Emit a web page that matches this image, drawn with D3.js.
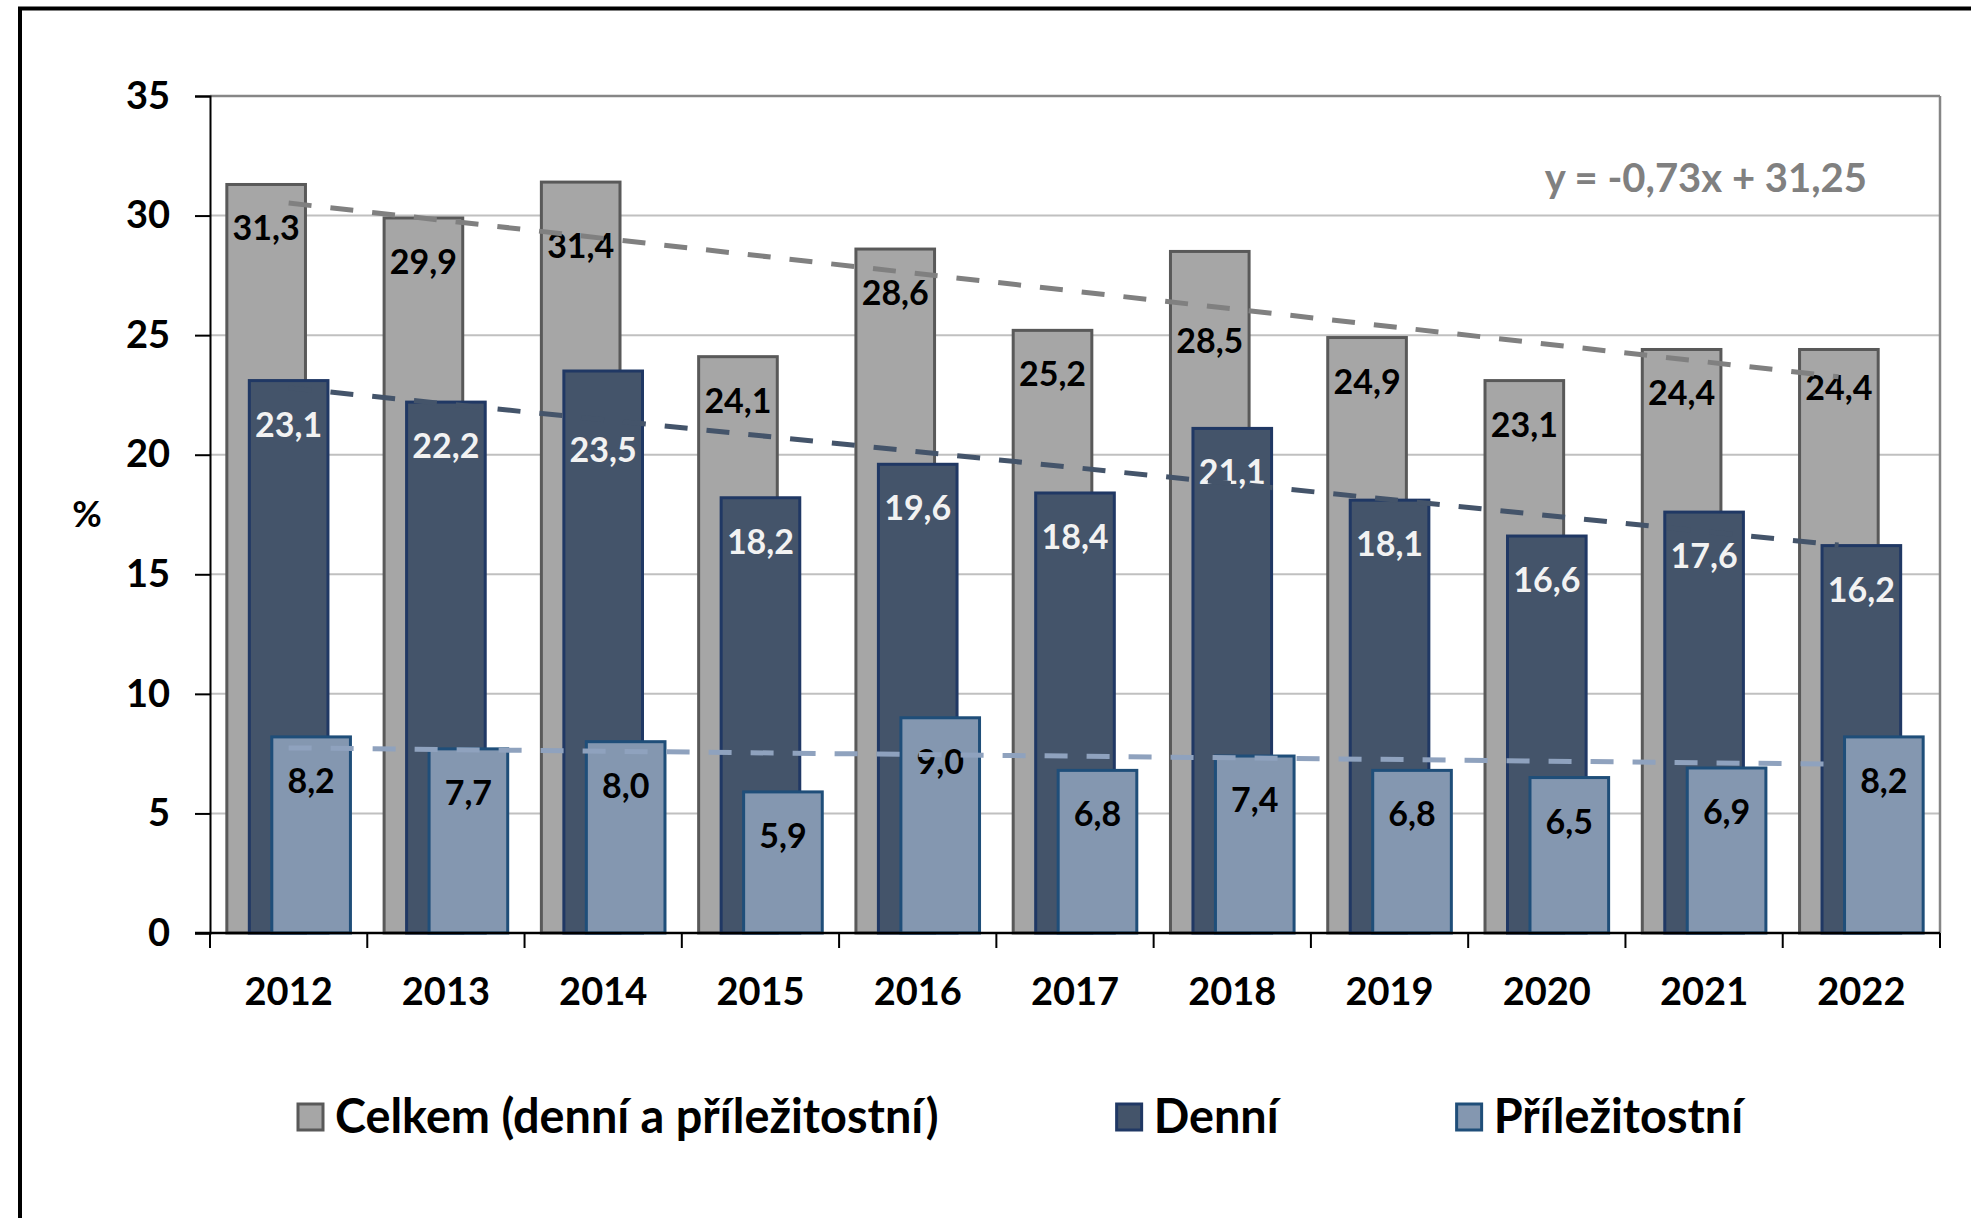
<!DOCTYPE html>
<html><head><meta charset="utf-8">
<script src="https://cdn.jsdelivr.net/npm/d3@7"></script>
<style>body{margin:0;background:#fff}svg{display:block}text{font-family:Lato,"Open Sans",sans-serif}</style>
</head><body><svg id="c" width="1971" height="1218"></svg>
<script>
const years = ["2012","2013","2014","2015","2016","2017","2018","2019","2020","2021","2022"];
const celkem = [31.3,29.9,31.4,24.1,28.6,25.2,28.5,24.9,23.1,24.4,24.4];
const denni  = [23.1,22.2,23.5,18.2,19.6,18.4,21.1,18.1,16.6,17.6,16.2];
const prilez = [8.2,7.7,8.0,5.9,9.0,6.8,7.4,6.8,6.5,6.9,8.2];
const yTicks = [0,5,10,15,20,25,30,35];
const seriesNames = ["Celkem (denní a příležitostní)","Denní","Příležitostní"];
const yAxisTitle = "%";
const equationLabel = "y = -0,73x + 31,25";

// manual label nudges (px), as moved in the original chart
const labelNudge = {"0|2014": 20, "0|2018": 46, "0|2022": -5, "1|2014": 35};

const series = [
  {name: seriesNames[0], values: celkem, fill: "#A6A6A6", stroke: "#595959", label: "#000", trend: "#808080", off: -0.143},
  {name: seriesNames[1], values: denni,  fill: "#44546A", stroke: "#203864", label: "#F2F2F2", trend: "#44546A", off: 0},
  {name: seriesNames[2], values: prilez, fill: "#8497B0", stroke: "#1F4E79", label: "#000", trend: "#8FA2BE", off: 0.143}
];

const svg = d3.select("#c");
const W = 1971, H = 1218;
svg.append("rect").attr("width", W).attr("height", H).attr("fill", "#fff");
svg.append("rect").attr("x", 20).attr("y", 8.5).attr("width", 1990).attr("height", 1250)
  .attr("fill", "none").attr("stroke", "#000").attr("stroke-width", 4);

const m = {left: 210, right: 1940, top: 96, bottom: 933};
const x = d3.scaleBand().domain(years).range([m.left, m.right]).padding(0);
const y = d3.scaleLinear().domain([0, 35]).range([m.bottom, m.top]);
const bw = x.bandwidth();
const barW = bw * 0.5;

// gridlines
svg.append("g").selectAll("line").data(yTicks.filter(t => t > 0)).join("line")
  .attr("x1", m.left).attr("x2", m.right)
  .attr("y1", d => y(d)).attr("y2", d => y(d))
  .attr("stroke", d => d === 35 ? "#868686" : "#C0C0C0")
  .attr("stroke-width", d => d === 35 ? 2.5 : 2);
svg.append("line").attr("x1", m.right).attr("x2", m.right).attr("y1", m.top).attr("y2", m.bottom)
  .attr("stroke", "#868686").attr("stroke-width", 2.5);

// bars
series.forEach(s => {
  svg.append("g").selectAll("rect").data(s.values).join("rect")
    .attr("x", (d, i) => x(years[i]) + bw / 2 + s.off * bw - barW / 2)
    .attr("y", d => y(d))
    .attr("width", barW)
    .attr("height", d => y(0) - y(d))
    .attr("fill", s.fill).attr("stroke", s.stroke).attr("stroke-width", 3);
});

// labels
series.forEach((s, si) => {
  svg.append("g").selectAll("text").data(s.values).join("text")
    .attr("x", (d, i) => x(years[i]) + bw / 2 + s.off * bw)
    .attr("y", (d, i) => y(d) + 56 + (labelNudge[si + "|" + years[i]] || 0))
    .attr("text-anchor", "middle")
    .attr("font-size", 34).attr("font-weight", 700)
    .attr("fill", s.label)
    .text(d => d.toFixed(1).replace(".", ","));
});

// trendlines (least squares on the series values)
const xT = d3.scaleLinear().domain([1, years.length])
  .range([x(years[0]) + bw / 2, x(years[years.length - 1]) + bw / 2 - 0.145 * bw]);
series.forEach(s => {
  const n = s.values.length;
  const xs = s.values.map((d, i) => i + 1);
  const mx = d3.mean(xs), my = d3.mean(s.values);
  const sxy = d3.sum(xs, (xi, i) => (xi - mx) * (s.values[i] - my));
  const sxx = d3.sum(xs, xi => (xi - mx) ** 2);
  const slope = sxy / sxx, icpt = my - slope * mx;
  svg.append("line")
    .attr("x1", xT(1)).attr("y1", y(slope * 1 + icpt))
    .attr("x2", xT(n)).attr("y2", y(slope * n + icpt))
    .attr("stroke", s.trend).attr("stroke-width", 5)
    .attr("stroke-dasharray", "23,19");
});

// axes
const yAxis = svg.append("g").attr("transform", `translate(${m.left},0)`)
  .call(d3.axisLeft(y).tickValues(yTicks).tickSize(15).tickPadding(25).tickFormat(d3.format("d")));
yAxis.select(".domain").attr("stroke", "#000").attr("stroke-width", 2);
yAxis.selectAll(".tick line").attr("stroke", "#000").attr("stroke-width", 2);
yAxis.selectAll("text").attr("font-size", 38).attr("font-weight", 700).attr("fill", "#000")
  .attr("font-family", "Lato, sans-serif");

const xAxis = svg.append("g").attr("transform", `translate(0,${m.bottom})`)
  .call(d3.axisBottom(x).tickSize(0).tickPadding(45));
xAxis.select(".domain").remove();
xAxis.selectAll("text").attr("font-size", 38).attr("font-weight", 700).attr("fill", "#000")
  .attr("font-family", "Lato, sans-serif");
svg.append("line").attr("x1", m.left - 15).attr("x2", m.right).attr("y1", m.bottom).attr("y2", m.bottom)
  .attr("stroke", "#000").attr("stroke-width", 2.5);
const bounds = years.map(d => x(d)).concat([m.right]);
svg.append("g").selectAll("line").data(bounds).join("line")
  .attr("x1", d => d).attr("x2", d => d).attr("y1", m.bottom).attr("y2", m.bottom + 15)
  .attr("stroke", "#000").attr("stroke-width", 2);

// y title
svg.append("text").attr("x", 87).attr("y", 527).attr("text-anchor", "middle")
  .attr("font-size", 36).attr("font-weight", 700).text(yAxisTitle);

// equation
svg.append("text").attr("x", 1867).attr("y", 192).attr("text-anchor", "end")
  .attr("font-size", 40).attr("font-weight", 700).attr("fill", "#808080").text(equationLabel);

// legend
const lg = svg.append("g");
let lx = 298;
series.forEach(s => {
  lg.append("rect").attr("x", lx).attr("y", 1104).attr("width", 25).attr("height", 26)
    .attr("fill", s.fill).attr("stroke", s.stroke).attr("stroke-width", 3);
  const t = lg.append("text").attr("x", lx + 37).attr("y", 1133)
    .attr("font-size", 46.8).attr("font-weight", 700).attr("fill", "#000").text(s.name);
  lx += 37 + t.node().getComputedTextLength() + 178;
});
</script></body></html>
